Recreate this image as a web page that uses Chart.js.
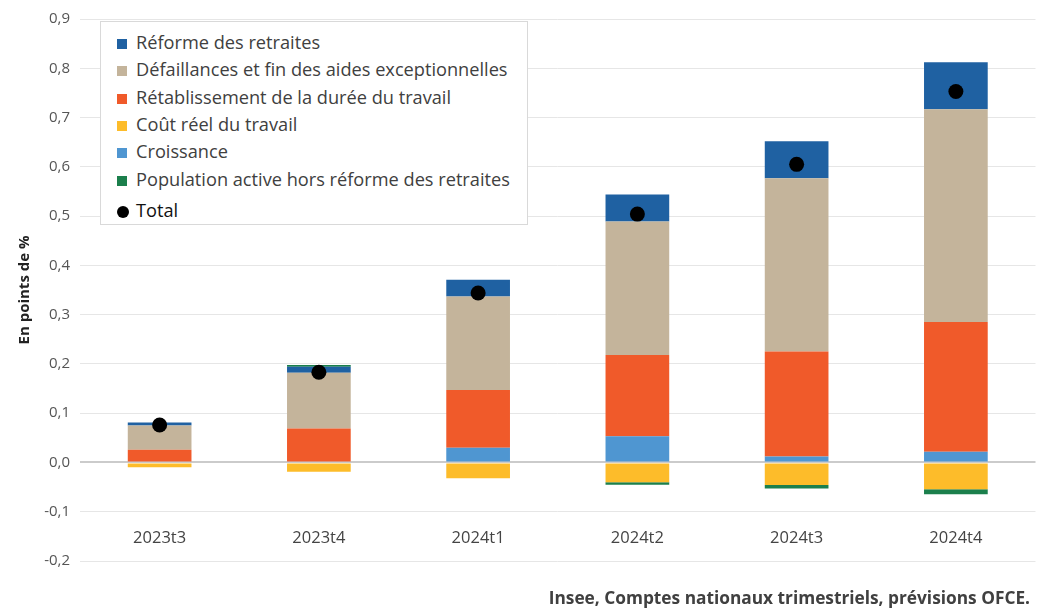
<!DOCTYPE html>
<html lang="fr">
<head>
<meta charset="utf-8">
<script src="https://cdn.jsdelivr.net/npm/chart.js@4/dist/chart.umd.min.js"></script>
<style>
  html, body { margin: 0; padding: 0; background: #fff; }
  #wrap { position: relative; width: 1043px; height: 608px; }
  #legend {
    position: absolute; left: 100px; top: 21px; width: 428px; height: 204px;
    border: 1px solid #d9d9d9; background: #fff; box-sizing: border-box;
    font-family: "Open Sans", "Noto Sans", sans-serif; font-size: 18.2px; color: #404040;
  }
  #legend .it { position: absolute; left: 16px; height: 22px; line-height: 22px; white-space: nowrap; }
  #legend .sw { display: inline-block; width: 10px; height: 10px; margin-right: 9px; vertical-align: 0px; }
  #legend .dot { display: inline-block; width: 12px; height: 12px; border-radius: 50%; background: #000; margin-right: 7px; vertical-align: -1px; }
  #source {
    position: absolute; right: 13px; top: 586px;
    font-family: "Open Sans", sans-serif; font-weight: 700; font-size: 17.3px; color: #404040;
    white-space: nowrap;
  }
</style>
</head>
<body>
<div id="wrap">
  <canvas id="c" width="1043" height="608"></canvas>
  <div id="legend"></div>
  <div id="source">Insee, Comptes nationaux trimestriels, prévisions OFCE.</div>
</div>
<script>
const categories = ["2023t3", "2023t4", "2024t1", "2024t2", "2024t3", "2024t4"];
const reformeRetraites   = [0.006, 0.012, 0.034, 0.055, 0.075, 0.095];
const defaillances       = [0.049, 0.113, 0.190, 0.271, 0.352, 0.432];
const dureeTravail       = [0.026, 0.069, 0.117, 0.165, 0.213, 0.2635];
const coutReel           = [-0.0095, -0.019, -0.032, -0.040, -0.046, -0.0545];
const croissance         = [0.000, 0.000, 0.030, 0.053, 0.012, 0.0215];
const populationActive   = [0.000, 0.004, 0.000, -0.005, -0.007, -0.010];
const total              = [0.076, 0.183, 0.344, 0.504, 0.605, 0.753];
const yTicks = [-0.2, -0.1, 0.0, 0.1, 0.2, 0.3, 0.4, 0.5, 0.6, 0.7, 0.8, 0.9];

const C = {
  reforme: "#1f61a2",
  defaill: "#c4b49b",
  duree: "#f05a2a",
  cout: "#fdbc2a",
  croiss: "#4f96d1",
  pop: "#1b7f4c"
};

const barDs = (label, data, color) => ({
  type: "bar", label, data, backgroundColor: color, borderWidth: 0,
  stack: "s", barPercentage: 0.4, categoryPercentage: 1.0, order: 2
});

const datasets = [
  barDs("Croissance", croissance, C.croiss),
  barDs("Coût réel du travail", coutReel, C.cout),
  barDs("Rétablissement de la durée du travail", dureeTravail, C.duree),
  barDs("Défaillances et fin des aides exceptionnelles", defaillances, C.defaill),
  barDs("Réforme des retraites", reformeRetraites, C.reforme),
  barDs("Population active hors réforme des retraites", populationActive, C.pop),
  {
    type: "line", label: "Total", data: total, showLine: false,
    pointRadius: 7.5, pointHoverRadius: 7.5, pointBackgroundColor: "#000",
    pointBorderWidth: 0, borderColor: "#000", order: 1, stack: "t"
  }
];

// HTML legend (in the reference order)
const legendOrder = [
  ["Réforme des retraites", C.reforme],
  ["Défaillances et fin des aides exceptionnelles", C.defaill],
  ["Rétablissement de la durée du travail", C.duree],
  ["Coût réel du travail", C.cout],
  ["Croissance", C.croiss],
  ["Population active hors réforme des retraites", C.pop],
  ["Total", null]
];
const legendTops = [9, 36, 64, 91, 118, 146, 177];
const lg = document.getElementById("legend");
legendOrder.forEach(([name, col], i) => {
  const d = document.createElement("div");
  d.className = "it";
  d.style.top = legendTops[i] + "px";
  d.innerHTML = (col ? `<span class="sw" style="background:${col}"></span>` : `<span class="dot"></span>`) +
    `<span${col ? "" : ' style="color:#111"'}>${name}</span>`;
  lg.appendChild(d);
});

// Category labels drawn inside the plot (just above the -0,2 gridline), placed by the x scale
const catLabels = {
  id: "catLabels",
  afterDraw(chart) {
    const { ctx, scales: { x, y } } = chart;
    ctx.save();
    ctx.font = "16.5px 'Open Sans', sans-serif";
    ctx.fillStyle = "#444";
    ctx.textAlign = "center";
    ctx.textBaseline = "middle";
    const yPix = y.getPixelForValue(-0.2) - 23;
    categories.forEach((c, i) => ctx.fillText(c, x.getPixelForValue(i), yPix));
    ctx.restore();
  }
};

new Chart(document.getElementById("c"), {
  data: { labels: categories, datasets },
  plugins: [catLabels],
  options: {
    responsive: false,
    animation: false,
    layout: { padding: { top: 16, right: 7, left: 0, bottom: 0 } },
    plugins: { legend: { display: false }, tooltip: { enabled: false } },
    scales: {
      x: {
        stacked: true,
        grid: { display: false, drawTicks: false },
        border: { display: false },
        ticks: { display: false },
        afterFit: s => { s.height = 47; }
      },
      y: {
        stacked: true,
        min: -0.2, max: 0.9,
        afterBuildTicks: s => { s.ticks = yTicks.map(v => ({ value: v })); },
        grid: {
          drawTicks: false,
          color: ctx => (ctx.tick && Math.abs(ctx.tick.value) < 1e-9) ? "#cbcbcb" : "#e6e6e6",
          lineWidth: ctx => (ctx.tick && Math.abs(ctx.tick.value) < 1e-9) ? 2 : 1
        },
        border: { display: false },
        ticks: {
          padding: 10, color: "#555",
          font: { family: "'Open Sans', sans-serif", size: 15 },
          callback: v => v.toFixed(1).replace(".", ",")
        },
        title: {
          display: true, text: "En points de %", color: "#222",
          font: { family: "'Open Sans', sans-serif", size: 15, weight: "bold" },
          padding: { top: 16, bottom: 0 }
        },
        afterFit: s => { s.width = 80; }
      }
    }
  }
});
</script>
</body>
</html>
